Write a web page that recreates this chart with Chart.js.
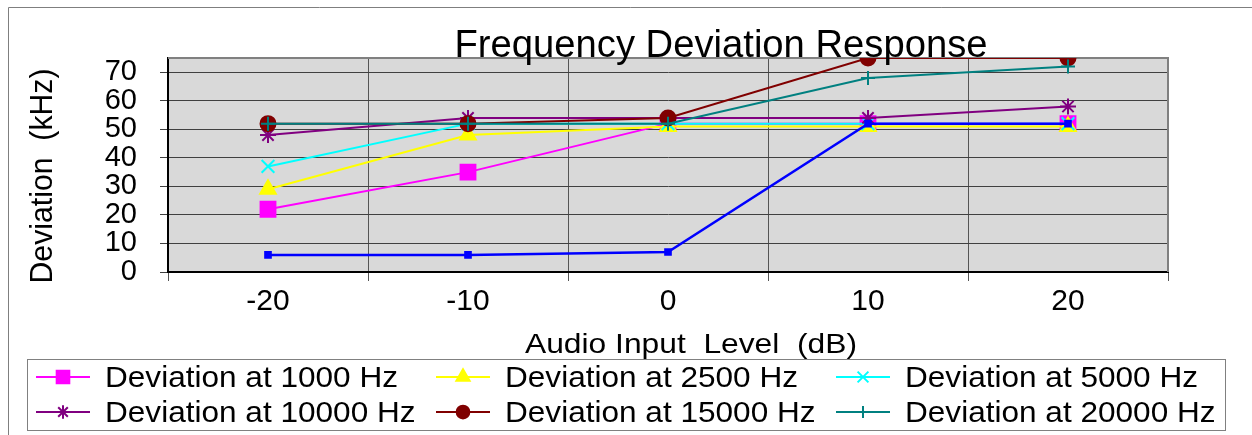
<!DOCTYPE html>
<html lang="en">
<head>
    <meta charset="UTF-8">
    <title>Frequency Deviation Response</title>
    <script src="https://cdn.jsdelivr.net/npm/chart.js"></script>
    <style>
        body {
            margin: 0;
            background: #fff;
        }

        .chart-box {
            position: relative;
            width: 1252px;
            height: 435px;
        }
    </style>
</head>
<body>

    <div class="chart-box"><canvas id="deviationChart"></canvas></div>

    <script>
        // audio input level (dB) on the x axis
        const inputLevels = ["-20", "-10", "0", "10", "20"];
        const yTickValues = [0, 10, 20, 30, 40, 50, 60, 70];

        // deviation in kHz
        const dev1000 = [22, 35, 52, 52, 52];
        const dev2500 = [29, 48, 51, 51, 51];
        const dev5000 = [37, 52, 52, 52, 52];
        const dev10000 = [48, 54, 54, 54, 58];
        const dev15000 = [52, 52, 54, 75, 75];
        const dev20000 = [52, 52, 52, 68, 72];
        const devUnlabelled = [6, 6, 7, 52, 52];   // blue series, not in the legend

        const seriesNames = [
            "Deviation at 1000 Hz", "Deviation at 2500 Hz", "Deviation at 5000 Hz",
            "Deviation at 10000 Hz", "Deviation at 15000 Hz", "Deviation at 20000 Hz", ""
        ];
        const seriesData = [dev1000, dev2500, dev5000, dev10000, dev15000, dev20000, devUnlabelled];

        const seriesStyle = [
            { color: "#ff00ff", point: "rect", radius: 10.5 },
            { color: "#ffff00", point: "triangle", radius: 9 },
            { color: "#00ffff", point: "crossRot", radius: 9 },
            { color: "#800080", point: "star", radius: 8 },
            { color: "#800000", point: "circle", radius: 7.5 },
            { color: "#008080", point: "cross", radius: 7 },
            { color: "#0000ff", point: "rect", radius: 4 }
        ];

        const FONT = "'Liberation Sans', Arial, sans-serif";

        // draw text squeezed/stretched to a given width
        function drawText(ctx, text, x, y, size, width, align, angle) {
            ctx.save();
            ctx.font = size + "px " + FONT;
            const w = ctx.measureText(text).width;
            ctx.translate(x, y);
            if (angle) ctx.rotate(angle);
            ctx.scale(width ? width / w : 1, 1);
            ctx.textAlign = align || "center";
            ctx.textBaseline = "alphabetic";
            ctx.fillStyle = "#000";
            ctx.fillText(text, 0, 0);
            ctx.restore();
        }

        const framePlugin = {
            id: "frame",
            beforeDraw(chart) {
                const { ctx, chartArea: a } = chart;
                ctx.save();
                ctx.fillStyle = "#fff";
                ctx.fillRect(0, 0, chart.width, chart.height);
                ctx.fillStyle = "#d9d9d9";
                ctx.fillRect(a.left, a.top, a.right - a.left, a.bottom - a.top);
                // outer chart border (left + top only visible)
                ctx.strokeStyle = "#7f7f7f";
                ctx.lineWidth = 1;
                ctx.beginPath();
                ctx.moveTo(8.5, chart.height);
                ctx.lineTo(8.5, 7.5);
                ctx.lineTo(chart.width, 7.5);
                ctx.stroke();
                ctx.restore();
            },
            beforeDatasetsDraw(chart) {
                const { ctx, chartArea: a } = chart;
                ctx.save();
                ctx.strokeStyle = "#808080";
                ctx.lineWidth = 2;
                ctx.beginPath();
                ctx.moveTo(a.left, a.top);
                ctx.lineTo(a.right, a.top);
                ctx.lineTo(a.right, a.bottom);
                ctx.stroke();
                ctx.restore();
            },
            afterDraw(chart) {
                const ctx = chart.ctx;

                drawText(ctx, "Frequency Deviation Response", 721, 57, 38, 533);
                drawText(ctx, "Audio Input  Level  (dB)", 691, 353, 28, 332);
                drawText(ctx, "Deviation  (kHz)", 52, 176, 32, 215, "center", -Math.PI / 2);

                // legend box, 3 columns x 2 rows
                ctx.save();
                ctx.strokeStyle = "#808080";
                ctx.lineWidth = 1;
                ctx.strokeRect(27.5, 359.5, 1198, 71);
                ctx.restore();

                ctx.save();
                ctx.font = "29px " + FONT;
                const sx = 293 / ctx.measureText(seriesNames[0]).width;
                ctx.restore();

                for (let i = 0; i < 6; i++) {
                    const st = seriesStyle[i];
                    const x0 = 36 + (i % 3) * 400;
                    const yc = 377 + Math.floor(i / 3) * 35;
                    ctx.save();
                    ctx.strokeStyle = st.color;
                    ctx.fillStyle = st.color;
                    ctx.lineWidth = 2;
                    ctx.beginPath();
                    ctx.moveTo(x0, yc);
                    ctx.lineTo(x0 + 54, yc);
                    ctx.stroke();
                    Chart.helpers.drawPoint(ctx, {
                        pointStyle: st.point,
                        radius: st.radius * 0.85,
                        rotation: 0,
                        borderWidth: 2
                    }, x0 + 27, yc);
                    ctx.restore();

                    ctx.save();
                    ctx.font = "29px " + FONT;
                    ctx.translate(x0 + 69, yc + 10);
                    ctx.scale(sx, 1);
                    ctx.fillStyle = "#000";
                    ctx.textAlign = "left";
                    ctx.fillText(seriesNames[i], 0, 0);
                    ctx.restore();
                }
            }
        };

        const datasets = seriesData.map((values, i) => ({
            label: seriesNames[i],
            data: values,
            borderColor: seriesStyle[i].color,
            backgroundColor: seriesStyle[i].color,
            borderWidth: i === 6 ? 2.5 : 2,
            pointStyle: seriesStyle[i].point,
            pointRadius: seriesStyle[i].radius,
            pointBorderWidth: 2,
            tension: 0,
            order: seriesData.length - i   // later series drawn on top
        }));

        new Chart(document.getElementById("deviationChart"), {
            type: "line",
            data: { labels: inputLevels, datasets },
            options: {
                responsive: true,
                maintainAspectRatio: false,
                animation: false,
                events: [],
                layout: { padding: { top: 58, right: 84, bottom: 113, left: 0 } },
                plugins: {
                    legend: { display: false },
                    title: { display: false },
                    tooltip: { enabled: false }
                },
                scales: {
                    x: {
                        offset: true,
                        grid: {
                            offset: true,
                            color: "#555",
                            lineWidth: 1,
                            tickLength: 9,
                            tickColor: "#555"
                        },
                        border: { color: "#000", width: 2 },
                        ticks: {
                            color: "#000",
                            font: { family: FONT, size: 30 },
                            padding: 3,
                            maxRotation: 0
                        },
                        afterFit(scale) { scale.height = 50; }
                    },
                    y: {
                        min: 0,
                        max: 75,
                        grid: {
                            color: "#404040",
                            lineWidth: 1,
                            tickLength: 8,
                            tickColor: "#404040"
                        },
                        border: { color: "#000", width: 2 },
                        ticks: {
                            color: "#000",
                            font: { family: FONT, size: 29 },
                            padding: 23,
                            autoSkip: false
                        },
                        afterBuildTicks(scale) {
                            scale.ticks = yTickValues.map(v => ({ value: v }));
                        },
                        afterFit(scale) { scale.width = 168; }
                    }
                }
            },
            plugins: [framePlugin]
        });
    </script>

</body>
</html>
